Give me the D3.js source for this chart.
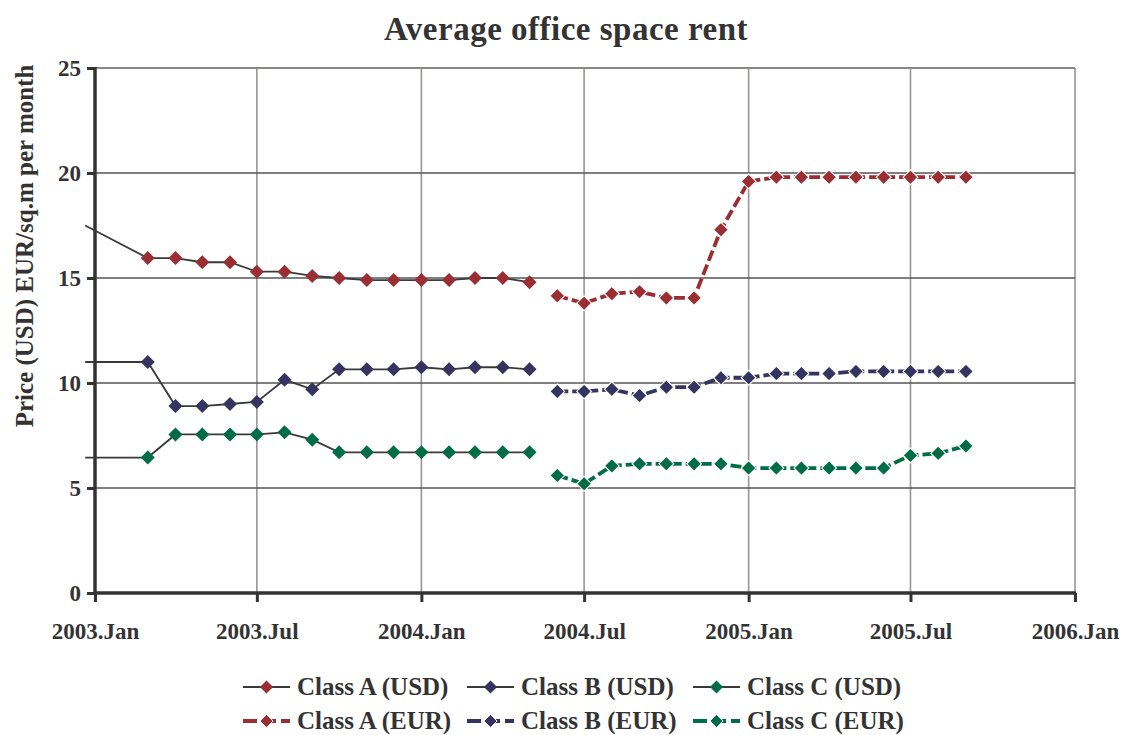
<!DOCTYPE html>
<html>
<head>
<meta charset="utf-8">
<script src="https://cdn.jsdelivr.net/npm/d3@7"></script>
<style>
  html, body { margin: 0; padding: 0; background: #fff; }
  svg { display: block; }
  text { font-family: "Liberation Serif", "Times New Roman", serif; font-weight: bold; fill: #333; }
</style>
</head>
<body>
<svg id="chart" width="1122" height="735"></svg>
<script>
// ---------- DATA ----------
const usdMonths = ["2003-03","2003-04","2003-05","2003-06","2003-07","2003-08","2003-09","2003-10",
                   "2003-11","2003-12","2004-01","2004-02","2004-03","2004-04","2004-05"];
const classA_USD = [15.95,15.95,15.75,15.75,15.3,15.3,15.1,15.0,14.9,14.9,14.9,14.9,15.0,15.0,14.8];
const classB_USD = [11.0,8.9,8.9,9.0,9.1,10.15,9.7,10.65,10.65,10.65,10.75,10.65,10.75,10.75,10.65];
const classC_USD = [6.45,7.55,7.55,7.55,7.55,7.65,7.3,6.7,6.7,6.7,6.7,6.7,6.7,6.7,6.7];
// lead-in point (line only, no marker) entering from the left edge
const usdLeadDate = "2002-12-21";
const usdLeadValues = [17.5, 11.0, 6.45];

const eurMonths = ["2004-06","2004-07","2004-08","2004-09","2004-10","2004-11","2004-12","2005-01",
                   "2005-02","2005-03","2005-04","2005-05","2005-06","2005-07","2005-08","2005-09"];
const classA_EUR = [14.15,13.8,14.25,14.35,14.05,14.05,17.3,19.6,19.8,19.8,19.8,19.8,19.8,19.8,19.8,19.8];
const classB_EUR = [9.6,9.6,9.7,9.4,9.8,9.8,10.25,10.25,10.45,10.45,10.45,10.55,10.55,10.55,10.55,10.55];
const classC_EUR = [5.6,5.2,6.05,6.15,6.15,6.15,6.15,5.95,5.95,5.95,5.95,5.95,5.95,6.55,6.65,7.0];

const seriesNames = ["Class A (USD)","Class B (USD)","Class C (USD)","Class A (EUR)","Class B (EUR)","Class C (EUR)"];
const yTicks = [0,5,10,15,20,25];
const xTickDates = ["2003-01","2003-07","2004-01","2004-07","2005-01","2005-07","2006-01"];
const titleText = "Average office space rent";
const yLabelText = "Price (USD) EUR/sq.m per month";

// ---------- STYLE ----------
const colors = ["#9a2e33", "#35335f", "#006d47"];
const svg = d3.select("#chart");
const plot = { left: 95, right: 1075, top: 68, bottom: 593 };

const parse = d3.utcParse("%Y-%m-%d");
const pm = s => s.length === 7 ? parse(s + "-01") : parse(s);

const x = d3.scaleUtc().domain([pm("2003-01"), pm("2006-01")]).range([plot.left, plot.right]);
const y = d3.scaleLinear().domain([0, 25]).range([plot.bottom, plot.top]);

// gridlines
const g = svg.append("g");
g.selectAll("line.vgrid").data(xTickDates.slice(1)).join("line")
  .attr("x1", d => x(pm(d))).attr("x2", d => x(pm(d)))
  .attr("y1", plot.top).attr("y2", plot.bottom)
  .attr("stroke", "#9a9494").attr("stroke-width", 1.6);
g.selectAll("line.hgrid").data(yTicks.slice(1)).join("line")
  .attr("x1", plot.left).attr("x2", plot.right)
  .attr("y1", d => y(d)).attr("y2", d => y(d))
  .attr("stroke", d => d === 25 ? "#8e8585" : "#555").attr("stroke-width", d => d === 25 ? 2 : 1.3);

// axes
const yAxis = d3.axisLeft(y).tickValues(yTicks).tickSize(8).tickPadding(6);
const yg = svg.append("g").attr("transform", `translate(${plot.left},0)`).call(yAxis);
yg.select(".domain").remove();
yg.selectAll(".tick line").attr("stroke", "#333").attr("stroke-width", 3);
yg.selectAll(".tick text").style("font-size", "23px").attr("fill", "#333");

const xAxis = d3.axisBottom(x).tickValues(xTickDates.map(pm)).tickFormat(d3.utcFormat("%Y.%b")).tickSize(9).tickPadding(14);
const xg = svg.append("g").attr("transform", `translate(0,${plot.bottom})`).call(xAxis);
xg.select(".domain").remove();
xg.selectAll(".tick line").attr("stroke", "#333").attr("stroke-width", 3);
xg.selectAll(".tick text").style("font-size", "23px").attr("fill", "#333").attr("dy", null).attr("y", 46);

svg.append("line").attr("x1", plot.left).attr("x2", plot.left).attr("y1", plot.top - 1).attr("y2", plot.bottom + 2)
  .attr("stroke", "#333").attr("stroke-width", 3.5);
svg.append("line").attr("x1", plot.left - 1).attr("x2", plot.right + 1).attr("y1", plot.bottom).attr("y2", plot.bottom)
  .attr("stroke", "#333").attr("stroke-width", 3.5);

// series
const usdDiamond = d3.symbol().type(d3.symbolDiamond2).size(125);
const eurDiamond = d3.symbol().type(d3.symbolDiamond2).size(140);
const usdSets = [classA_USD, classB_USD, classC_USD];
const eurSets = [classA_EUR, classB_EUR, classC_EUR];
const line = d3.line().x(d => x(d.date)).y(d => y(d.v));

usdSets.forEach((vals, i) => {
  const pts = vals.map((v, k) => ({ date: pm(usdMonths[k]), v }));
  const full = [{ date: pm(usdLeadDate), v: usdLeadValues[i] }].concat(pts);
  svg.append("path").datum(full).attr("d", line).attr("fill", "none")
    .attr("stroke", "#3a3a3a").attr("stroke-width", 1.8);
  svg.append("g").selectAll("path").data(pts).join("path")
    .attr("d", usdDiamond).attr("transform", d => `translate(${x(d.date)},${y(d.v)})`)
    .attr("fill", colors[i]);
});

eurSets.forEach((vals, i) => {
  const pts = vals.map((v, k) => ({ date: pm(eurMonths[k]), v }));
  svg.append("path").datum(pts).attr("d", line).attr("fill", "none")
    .attr("stroke", colors[i]).attr("stroke-width", 3.8).attr("stroke-dasharray", "11,4");
  svg.append("g").selectAll("path").data(pts).join("path")
    .attr("d", eurDiamond).attr("transform", d => `translate(${x(d.date)},${y(d.v)})`)
    .attr("fill", colors[i]).attr("stroke", "#fff").attr("stroke-width", 1.1);
});

// title
svg.append("text").attr("x", 566).attr("y", 40).attr("text-anchor", "middle")
  .style("font-size", "33px").style("letter-spacing", "0.5px").text(titleText);

// y label
svg.append("text").attr("transform", "translate(33,246) rotate(-90)").attr("text-anchor", "middle")
  .style("font-size", "25px").text(yLabelText);

// legend
const legendItems = seriesNames.map((name, i) => ({ name, idx: i % 3, eur: i >= 3, row: Math.floor(i / 3), col: i % 3 }));
const colX = [243, 467, 693];
const rowY = [687, 721];
const lg = svg.append("g");
legendItems.forEach(it => {
  const x0 = colX[it.col], yy = rowY[it.row];
  const item = lg.append("g");
  if (it.eur) {
    item.append("line").attr("x1", x0).attr("x2", x0 + 47).attr("y1", yy).attr("y2", yy)
      .attr("stroke", colors[it.idx]).attr("stroke-width", 3.8).attr("stroke-dasharray", "14,5");
  } else {
    item.append("line").attr("x1", x0).attr("x2", x0 + 47).attr("y1", yy).attr("y2", yy)
      .attr("stroke", "#3a3a3a").attr("stroke-width", 1.8);
  }
  item.append("path").attr("d", d3.symbol().type(d3.symbolDiamond2).size(110))
    .attr("transform", `translate(${x0 + 23.5},${yy})`).attr("fill", colors[it.idx])
    .attr("stroke", it.eur ? "#fff" : "none").attr("stroke-width", 1);
  item.append("text").attr("x", x0 + 54).attr("y", yy + 8).style("font-size", "25px").text(it.name);
});
</script>
</body>
</html>
